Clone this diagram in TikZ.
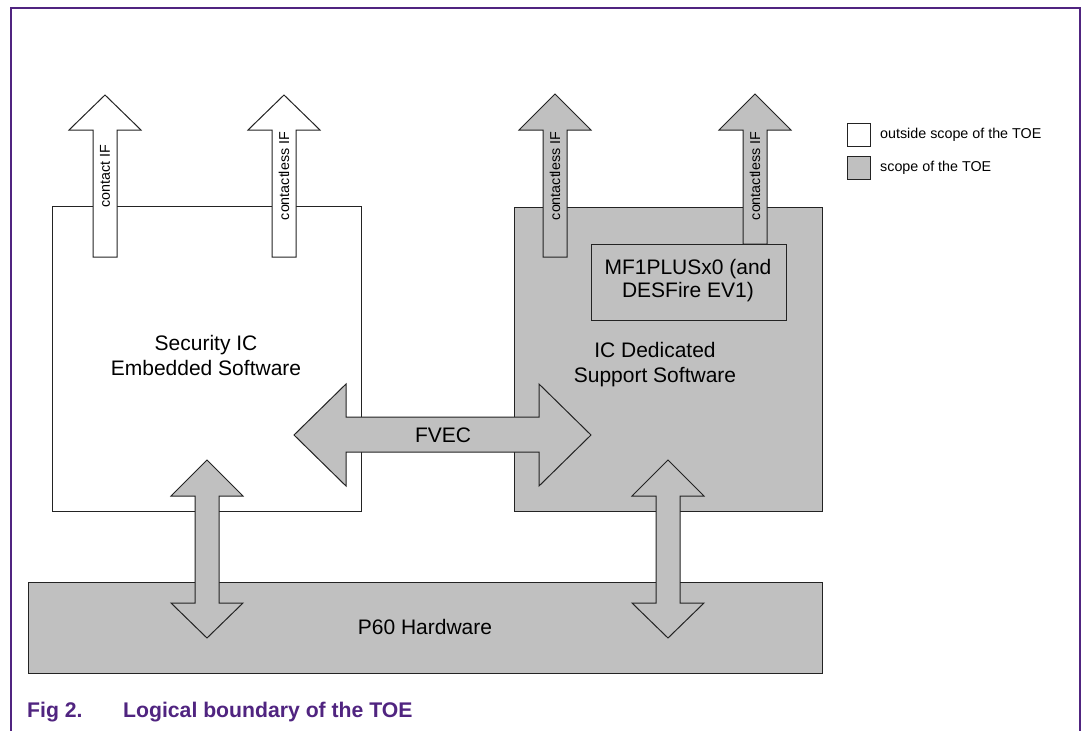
\documentclass[tikz,border=0pt]{standalone}
\usepackage{fontspec}
\setmainfont{Liberation Sans}
\definecolor{nxp}{RGB}{80,36,128}
\definecolor{toe}{RGB}{192,192,192}
\definecolor{ln}{RGB}{35,35,35}
\newcommand\myuparrow[5]{% style, cx, tip, base, bottom
  \draw[#1] (#2-12,#5) -- (#2-12,#4) -- (#2-36,#4) -- (#2,#3) -- (#2+36,#4) -- (#2+12,#4) -- (#2+12,#5) -- cycle;}
\newcommand\myvdarrow[2]{% style, cx
  \draw[#1] (#2-12,496) -- (#2-36,496) -- (#2,460) -- (#2+36,496) -- (#2+12,496) -- (#2+12,603) -- (#2+36,603) -- (#2,638) -- (#2-36,603) -- (#2-12,603) -- cycle;}
\begin{document}
\begin{tikzpicture}[x=1pt,y=-1pt,
  blk/.style={draw=ln, line width=1pt, line join=miter},
  wbox/.style={blk, fill=white, rectangle, inner sep=0pt, anchor=north west},
  gbox/.style={blk, fill=toe, rectangle, inner sep=0pt, anchor=north west},
  warr/.style={blk, fill=white},
  garr/.style={blk, fill=toe},
  big/.style={font=\fontsize{21}{25}\selectfont, align=center, inner sep=0pt},
  small/.style={font=\fontsize{14.3}{16}\selectfont, inner sep=0pt},
  captext/.style={font=\fontsize{21.2}{24}\selectfont\bfseries, text=nxp, inner sep=0pt, anchor=base west}]
\useasboundingbox (0,0) rectangle (1082,731);
% frame
\draw[nxp, line width=2.4pt] (11,731) -- (11,8) -- (1080,8) -- (1080,731);
% boxes
\node[wbox, minimum width=309pt, minimum height=305pt] (sec) at (52,206) {};
\node[gbox, minimum width=308pt, minimum height=304pt] (icd) at (514,207) {};
\node[gbox, minimum width=794pt, minimum height=91pt] (p60) at (28,582) {};
% up arrows
\myuparrow{warr}{105}{95}{130}{257}
\myuparrow{warr}{284}{95}{130}{257}
\myuparrow{garr}{555}{94}{130}{257}
\myuparrow{garr}{755}{94}{130}{244}
\node[gbox, minimum width=195pt, minimum height=76pt] (mf1) at (591,244) {};
% vertical double arrows
\myvdarrow{garr}{207}
\myvdarrow{garr}{668}
% FVEC arrow
\draw[garr] (346,417) -- (346,384) -- (294,435) -- (346,486) -- (346,452) -- (539,452) -- (539,486) -- (591,435) -- (539,384) -- (539,417) -- cycle;
% labels
\node[small, rotate=90] (l1) at (105,176) {contact IF};
\node[small, rotate=90] (l2) at (284,176) {contactless IF};
\node[small, rotate=90] (l3) at (555,176) {contactless IF};
\node[small, rotate=90] (l4) at (755,176) {contactless IF};
\node[big] (tsec) at (206,355) {Security IC\\Embedded Software};
\node[big] (ticd) at (655,365) {IC Dedicated\\Support Software};
\node[big, font=\fontsize{21}{23}\selectfont] (tmf) at (688,281) {MF1PLUSx0 (and\\DESFire EV1)};
\node[big] (tp60) at (425,627) {P60 Hardware};
\node[big] (tfvec) at (443,435) {FVEC};
% legend
\node[wbox, minimum width=23pt, minimum height=23pt] (lg1) at (847,123) {};
\node[gbox, minimum width=23pt, minimum height=23pt] (lg2) at (847,156) {};
\node[small, anchor=west] (lt1) at (880,134.5) {outside scope of the TOE};
\node[small, anchor=west] (lt2) at (880,167.5) {scope of the TOE};
% caption
\node[captext] (c1) at (27,717) {Fig 2.};
\node[captext] (c2) at (123,717) {Logical boundary of the TOE};
\end{tikzpicture}
\end{document}
